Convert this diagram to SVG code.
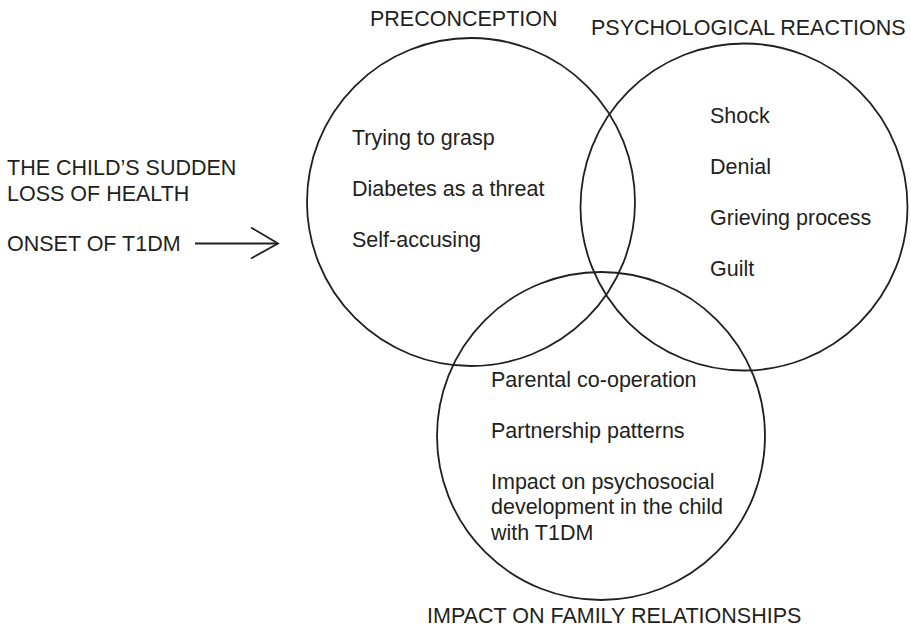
<svg xmlns="http://www.w3.org/2000/svg" width="911" height="630" viewBox="0 0 911 630">
<style>
text{font-family:"Liberation Sans",Arial,sans-serif;font-size:21.5px;fill:#231f20}
.c{fill:none;stroke:#231f20;stroke-width:1.8}
.a{fill:none;stroke:#231f20;stroke-width:1.8}
</style>
<rect width="911" height="630" fill="#fff"/>
<g id="preconception">
<circle class="c" cx="471" cy="202" r="164"/>
<text x="370" y="26">PRECONCEPTION</text>
<text x="352" y="145">Trying to grasp</text>
<text x="352" y="196">Diabetes as a threat</text>
<text x="352" y="247">Self-accusing</text>
</g>
<g id="psychological">
<circle class="c" cx="744" cy="207" r="163.5"/>
<text x="591" y="35">PSYCHOLOGICAL REACTIONS</text>
<text x="710" y="123">Shock</text>
<text x="710" y="174">Denial</text>
<text x="710" y="225">Grieving process</text>
<text x="710" y="276">Guilt</text>
</g>
<g id="family">
<circle class="c" cx="601" cy="436" r="164"/>
<text x="491" y="387">Parental co-operation</text>
<text x="491" y="438">Partnership patterns</text>
<text x="491" y="489">Impact on psychosocial</text>
<text x="491" y="514">development in the child</text>
<text x="491" y="539.5">with T1DM</text>
<text x="427" y="623">IMPACT ON FAMILY RELATIONSHIPS</text>
</g>
<g id="onset">
<text x="7" y="175">THE CHILD’S SUDDEN</text>
<text x="7" y="201">LOSS OF HEALTH</text>
<text x="7" y="251">ONSET OF T1DM</text>
</g>
<g id="connectors">
<line class="a" x1="195" y1="243.5" x2="278" y2="243.5"/>
<polyline class="a" points="251,227.5 278,243.5 251,258.5"/>
</g>
</svg>
